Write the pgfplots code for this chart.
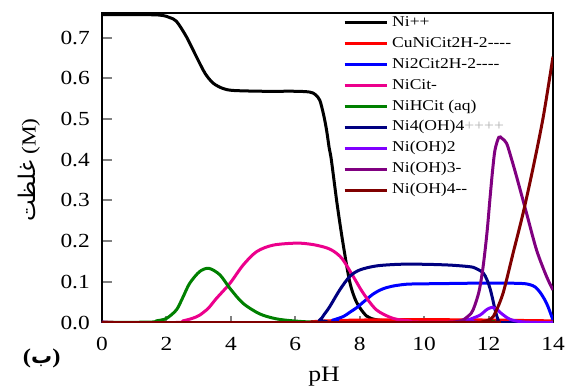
\documentclass[border=0pt]{standalone}
\usepackage{pgfplots}
\pgfplotsset{compat=1.18}
\usepackage{fontspec}
\setmainfont{Liberation Serif}[FakeStretch=1.17, Ligatures=TeXOff]
\newfontfamily\arabicfont[Script=Arabic]{DejaVu Sans}
\TeXXeTstate=1

\definecolor{navyc}{RGB}{0,0,128}
\definecolor{violetc}{RGB}{128,0,255}
\definecolor{purplec}{RGB}{128,0,128}
\definecolor{maroonc}{RGB}{128,0,0}
\definecolor{greenc}{RGB}{0,128,0}

\begin{document}
\begin{tikzpicture}[x=1pt,y=1pt]
\path[use as bounding box] (-102,-64.5) rectangle (468,322.5);
\begin{axis}[
  at={(0,0)}, anchor=south west,
  scale only axis, width=451pt, height=309.8pt,
  xmin=0, xmax=14, ymin=0, ymax=0.761,
  axis line style={line width=2pt},
  xtick={0,2,...,14}, ytick={0,0.1,0.2,0.3,0.4,0.5,0.6,0.7},
  tick align=inside, xtick pos=bottom, ytick pos=left,
  minor tick num=0,
  xtick style={line width=2pt, /pgfplots/major tick length=6pt},
  ytick style={line width=2pt, /pgfplots/major tick length=10pt},
  /pgf/number format/assume math mode=true,
  tick label style={font=\fontsize{20}{24}\selectfont},
  xticklabel style={anchor=north, inner sep=0pt, yshift=-14.5pt},
  yticklabel style={anchor=east, inner sep=0pt, xshift=-12pt,
    /pgf/number format/.cd, fixed, fixed zerofill, precision=1},
  legend cell align=left,
  legend style={draw=none, fill=none, inner sep=0pt,
    at={(0.5344,0.990)}, anchor=north west,
    font=\fontsize{15}{18}\selectfont,
    nodes={inner sep=0pt, text height=10.5pt, text depth=3.5pt},
    row sep=6.9pt,
    /tikz/every odd column/.append style={column sep=4pt}},
  legend image code/.code={\draw[#1, line width=3pt] (0pt,0pt) -- (42pt,0pt);},
  every axis plot/.append style={line width=3pt, smooth, no markers},
]
% Ni++
\addplot[black] coordinates {
 (0,0.756) (1.5,0.756) (1.9,0.754) (2.1,0.749) (2.31,0.740) (2.62,0.702)
 (2.93,0.653) (3.2,0.612) (3.45,0.588) (3.75,0.575) (4.07,0.570) (5,0.568)
 (6,0.568) (6.45,0.566) (6.62,0.560) (6.76,0.546) (6.88,0.510) (6.97,0.473)
 (7.05,0.430) (7.12,0.399) (7.3,0.290) (7.48,0.195) (7.69,0.100) (7.9,0.050)
 (8.21,0.016) (8.5,0.007) (8.83,0.004) (9.5,0.001) (10,0) (14,0)};
\addlegendentry{Ni++}
% CuNiCit2H-2----
\addplot[red] coordinates {
 (0,0) (6,0) (6.5,0.002) (7,0.004) (8,0.006) (10,0.007) (12,0.006) (13,0.005) (14,0.004)};
\addlegendentry{CuNiCit2H-2----}
% Ni2Cit2H-2----
\addplot[blue] coordinates {
 (0,0) (6.8,0) (7.17,0.006) (7.5,0.015) (7.69,0.025) (7.9,0.036) (8.11,0.050)
 (8.42,0.070) (8.7,0.082) (9.0,0.089) (9.45,0.094) (10,0.095) (11,0.096)
 (12,0.097) (13,0.096) (13.28,0.093) (13.45,0.087) (13.6,0.074) (13.75,0.055)
 (13.85,0.038) (14,0.006)};
\addlegendentry{Ni2Cit2H-2----}
% NiCit-
\addplot[magenta] coordinates {
 (0,0) (2.3,0) (2.52,0.004) (2.8,0.010) (3.03,0.018) (3.3,0.035) (3.55,0.059)
 (3.97,0.096) (4.38,0.141) (4.8,0.174) (5.31,0.190) (6.04,0.195) (6.5,0.192)
 (6.86,0.186) (7.08,0.180) (7.28,0.170) (7.48,0.154) (7.8,0.113) (8.11,0.072)
 (8.52,0.031) (9.04,0.010) (9.55,0.004) (10,0.001) (14,0)};
\addlegendentry{NiCit-}
% NiHCit (aq)
\addplot[greenc] coordinates {
 (0,0) (1.5,0.001) (1.69,0.004) (2.0,0.010) (2.31,0.031) (2.5,0.060) (2.72,0.096)
 (3.03,0.125) (3.32,0.133) (3.66,0.117) (3.97,0.084) (4.38,0.047) (4.9,0.021)
 (5.41,0.009) (5.93,0.004) (6.5,0.001) (7,0) (11.8,0) (12.05,0.004) (12.3,0) (14,0)};
\addlegendentry{NiHCit (aq)}
% Ni4(OH)4++++
\addplot[navyc] coordinates {
 (0,0) (6.5,0) (6.76,0.006) (6.9,0.020) (7.07,0.039) (7.38,0.080) (7.69,0.113)
 (8.0,0.129) (8.52,0.139) (9.24,0.143) (10,0.143) (10.8,0.141) (11.42,0.137)
 (11.6,0.133) (11.83,0.122) (11.95,0.105) (12.04,0.085) (12.12,0.060)
 (12.2,0.032) (12.3,0.006) (12.4,0) (14,0)};
\addlegendentry{Ni4(OH)4\textcolor{gray!60}{++++}}
% Ni(OH)2
\addplot[violetc] coordinates {
 (0,0) (10.8,0) (11.2,0.004) (11.42,0.008) (11.73,0.018) (11.95,0.032)
 (12.1,0.037) (12.25,0.033) (12.4,0.022) (12.66,0.008) (13,0.002) (13.5,0) (14,0)};
\addlegendentry{Ni(OH)2}
% Ni(OH)3-
\addplot[purplec] coordinates {
 (0,0) (10.8,0) (11.0,0.002) (11.2,0.006) (11.4,0.018) (11.52,0.031) (11.7,0.075)
 (11.83,0.137) (11.95,0.220) (12.04,0.301) (12.12,0.370) (12.2,0.424)
 (12.32,0.455) (12.42,0.452) (12.56,0.440) (12.7,0.405) (12.87,0.358)
 (13.18,0.268) (13.49,0.178) (13.8,0.113) (14,0.080)};
\addlegendentry{Ni(OH)3-}
% Ni(OH)4--
\addplot[maroonc] coordinates {
 (0,0) (11.6,0) (11.83,0.002) (12.0,0.006) (12.14,0.014) (12.3,0.040)
 (12.45,0.072) (12.6,0.118) (12.76,0.170) (13.07,0.268) (13.39,0.383)
 (13.7,0.506) (14.0,0.653)};
\addlegendentry{Ni(OH)4--}
\end{axis}
% axis titles
\node[anchor=base, font=\fontsize{22}{26}\selectfont] at (222,-59.3) {pH};
\node[rotate=90, font=\fontsize{20}{24}\selectfont] at (-73,152.5)
  {{\arabicfont\fontsize{23}{26}\selectfont\beginR غلظت\endR}\ (M)};
\node[font=\bfseries\fontsize{21}{24}\selectfont] at (-60.3,-35.5)
  {({\arabicfont\bfseries ب})};
\end{tikzpicture}
\end{document}
